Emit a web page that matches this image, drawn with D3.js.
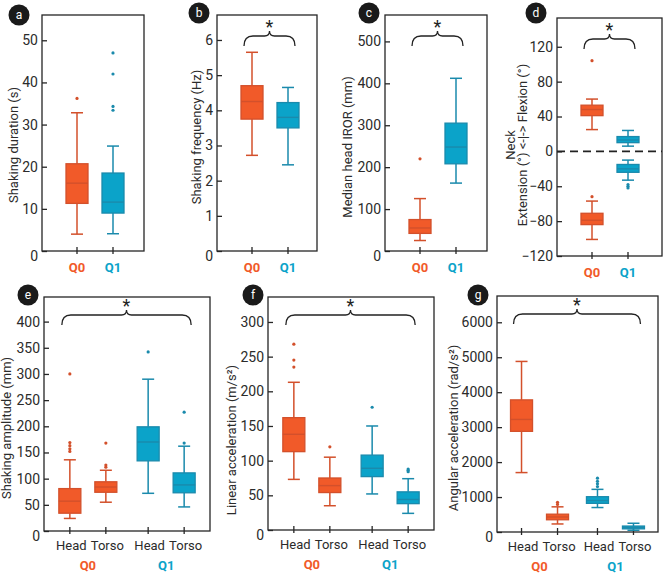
<!DOCTYPE html>
<html><head><meta charset="utf-8">
<script src="https://cdn.jsdelivr.net/npm/d3@7"></script>
<style>body{margin:0;background:#fff;} text{font-family:Roboto,"Noto Sans",sans-serif;}</style>
</head><body>
<script>
// ---------- DATA ----------
const groups = ["Q0", "Q1"];
const parts = ["Head", "Torso"];

const durationBoxes = [
  {group:"Q0", lo:4, q1:11.3, med:16.1, q3:20.7, hi:32.8, out:[36.2]},
  {group:"Q1", lo:4.1, q1:9, med:11.6, q3:18.5, hi:24.9, out:[33.4, 34.3, 42, 47]}
];
const frequencyBoxes = [
  {group:"Q0", lo:2.72, q1:3.75, med:4.25, q3:4.7, hi:5.65, out:[]},
  {group:"Q1", lo:2.45, q1:3.5, med:3.8, q3:4.22, hi:4.65, out:[]}
];
const irorBoxes = [
  {group:"Q0", lo:25, q1:42, med:55, q3:75, hi:125, out:[220]},
  {group:"Q1", lo:162, q1:208, med:248, q3:305, hi:412, out:[]}
];
const neckBoxes = [
  {group:"Q0", lo:25, q1:41, med:48, q3:53, hi:60, out:[104]},
  {group:"Q0", lo:-101, q1:-84, med:-79, q3:-71, hi:-57, out:[-52]},
  {group:"Q1", lo:6, q1:10, med:13, q3:17, hi:24, out:[]},
  {group:"Q1", lo:-33, q1:-24, med:-20, q3:-15, hi:-10, out:[-38, -40, -42]}
];
const amplitudeBoxes = [
  {group:"Q0", part:"Head", lo:24, q1:34, med:57, q3:81, hi:136, out:[152, 157, 163, 169, 300]},
  {group:"Q0", part:"Torso", lo:55, q1:74, med:84, q3:94, hi:116, out:[122, 126, 168]},
  {group:"Q1", part:"Head", lo:72, q1:134, med:170, q3:199, hi:290, out:[342]},
  {group:"Q1", part:"Torso", lo:46, q1:73, med:88, q3:111, hi:162, out:[168, 227]}
];
const linearBoxes = [
  {group:"Q0", part:"Head", lo:73, q1:113, med:138, q3:162, hi:213, out:[235, 245, 268]},
  {group:"Q0", part:"Torso", lo:35, q1:54, med:64, q3:75, hi:105, out:[120]},
  {group:"Q1", part:"Head", lo:52, q1:77, med:89, q3:108, hi:150, out:[177]},
  {group:"Q1", part:"Torso", lo:24, q1:38, med:44, q3:55, hi:74, out:[84, 86, 88]}
];
const angularBoxes = [
  {group:"Q0", part:"Head", lo:1700, q1:2880, med:3220, q3:3780, hi:4880, out:[]},
  {group:"Q0", part:"Torso", lo:230, q1:350, med:430, q3:510, hi:720, out:[790, 850]},
  {group:"Q1", part:"Head", lo:700, q1:820, med:900, q3:1010, hi:1220, out:[1300, 1380, 1450, 1540]},
  {group:"Q1", part:"Torso", lo:50, q1:90, med:130, q3:170, hi:250, out:[]}
];

const durationTicks = [0, 10, 20, 30, 40, 50];
const frequencyTicks = [0, 1, 2, 3, 4, 5, 6];
const irorTicks = [0, 100, 200, 300, 400, 500];
const neckTicks = [-120, -80, -40, 0, 40, 80, 120];
const amplitudeTicks = [0, 50, 100, 150, 200, 250, 300, 350, 400];
const linearTicks = [0, 50, 100, 150, 200, 250, 300];
const angularTicks = [0, 1000, 2000, 3000, 4000, 5000, 6000];

// ---------- STYLE / LAYOUT ----------
const fillC = {Q0:"#f15a29", Q1:"#0ba3c9"};
const strokeC = {Q0:"#d3502b", Q1:"#1a8aac"};
const axisC = "#262626";

const svg = d3.select("body").append("svg").attr("width", 663).attr("height", 575);

const panels = [
  {letter:"a", fx:[42,144], fy:[15,251], domain:[0,56], ticks:durationTicks, boxes:durationBoxes,
   label:["Shaking duration (s)"], lx:[13], ly:145, circ:[19,15], brace:false},
  {letter:"b", fx:[217,317], fy:[15,251], domain:[0,6.71], ticks:frequencyTicks, boxes:frequencyBoxes,
   label:["Shaking frequency (Hz)"], lx:[196], ly:137, circ:[199,13], brace:true},
  {letter:"c", fx:[385,487], fy:[15,251], domain:[0,563], ticks:irorTicks, boxes:irorBoxes,
   label:["Median head IROR (mm)"], lx:[347], ly:147, circ:[369,13], brace:true},
  {letter:"d", fx:[557,662], fy:[18,256], domain:[-120,153], ticks:neckTicks, boxes:neckBoxes,
   label:["Neck","Extension (°) <-|-> Flexion (°)"], lx:[510,522], ly:145, circ:[536,13], brace:true, zero:true},
  {letter:"e", fx:[44,210], fy:[297,531], domain:[0,447], ticks:amplitudeTicks, boxes:amplitudeBoxes,
   label:["Shaking amplitude (mm)"], lx:[6], ly:428, circ:[28,295], brace:true, parts:true},
  {letter:"f", fx:[268,434], fy:[297,530], domain:[0,336], ticks:linearTicks, boxes:linearBoxes,
   label:["Linear acceleration (m/s²)"], lx:[231], ly:440, circ:[253,295], brace:true, parts:true},
  {letter:"g", fx:[497,658], fy:[296,532], domain:[0,6752], ticks:angularTicks, boxes:angularBoxes,
   label:["Angular acceleration (rad/s²)"], lx:[453], ly:428, circ:[478,295], brace:true, parts:true}
];

function bracePath(x0, x1, y, h) {
  const xm = (x0 + x1) / 2, r = 9;
  return `M${x0},${y+h} Q${x0},${y} ${x0+r},${y} L${xm-5},${y} Q${xm},${y} ${xm},${y-5} Q${xm},${y} ${xm+5},${y} L${x1-r},${y} Q${x1},${y} ${x1},${y+h}`;
}

panels.forEach(p => {
  const g = svg.append("g");
  const y = d3.scaleLinear().domain(p.domain).range([p.fy[1], p.fy[0]]);
  let xpos, xg;
  if (p.parts) {
    xg = d3.scalePoint().domain(groups).range(p.fx).padding(0.56);
    const xp = d3.scalePoint().domain(parts).range([-18, 18]);
    xpos = b => xg(b.group) + xp(b.part);
  } else {
    xg = d3.scalePoint().domain(groups).range([p.fx[0] + 35, p.fx[0] + 71]);
    xpos = b => xg(b.group);
  }

  // y axis
  const ax = g.append("g").attr("transform", `translate(${p.fx[0]},0)`)
    .call(d3.axisLeft(y).tickValues(p.ticks).tickSize(-5).tickPadding(4).tickFormat(d3.format("d")));
  ax.select(".domain").remove();
  ax.selectAll(".tick line").attr("stroke", axisC).attr("stroke-width", 1.3);
  ax.selectAll(".tick text").attr("fill", "#2b2b2b").style("font-size", "14px")
    .attr("dy", d => (d === 0 && !p.zero) ? "0.65em" : "0.32em");

  // zero dashed line
  if (p.zero) {
    g.append("line").attr("x1", p.fx[0]).attr("x2", p.fx[1]).attr("y1", y(0)).attr("y2", y(0))
      .attr("stroke", "#222").attr("stroke-width", 1.6).attr("stroke-dasharray", "8,5");
  }

  // frame
  g.append("rect").attr("x", p.fx[0]).attr("y", p.fy[0]).attr("width", p.fx[1]-p.fx[0]).attr("height", p.fy[1]-p.fy[0])
    .attr("fill", "none").attr("stroke", axisC).attr("stroke-width", 1.3);

  // x ticks
  const xs = Array.from(new Set(p.boxes.map(xpos)));
  g.selectAll(".xt").data(xs).enter().append("line")
    .attr("x1", d => d).attr("x2", d => d).attr("y1", p.fy[1]-4).attr("y2", p.fy[1]+3)
    .attr("stroke", axisC).attr("stroke-width", 1.3);

  // boxes
  const bw = 22, cw = 12;
  p.boxes.forEach(b => {
    const cx = xpos(b), sc = strokeC[b.group];
    const bg = g.append("g");
    bg.append("line").attr("x1", cx).attr("x2", cx).attr("y1", y(b.lo)).attr("y2", y(b.q1)).attr("stroke", sc).attr("stroke-width", 1.5);
    bg.append("line").attr("x1", cx).attr("x2", cx).attr("y1", y(b.q3)).attr("y2", y(b.hi)).attr("stroke", sc).attr("stroke-width", 1.5);
    [b.lo, b.hi].forEach(v => bg.append("line").attr("x1", cx-cw/2).attr("x2", cx+cw/2).attr("y1", y(v)).attr("y2", y(v)).attr("stroke", sc).attr("stroke-width", 1.5));
    bg.append("rect").attr("x", cx-bw/2).attr("width", bw).attr("y", y(b.q3)).attr("height", y(b.q1)-y(b.q3))
      .attr("fill", fillC[b.group]).attr("stroke", sc).attr("stroke-width", 1.3);
    bg.append("line").attr("x1", cx-bw/2).attr("x2", cx+bw/2).attr("y1", y(b.med)).attr("y2", y(b.med)).attr("stroke", sc).attr("stroke-width", 1.4);
    bg.selectAll("circle").data(b.out).enter().append("circle")
      .attr("cx", cx).attr("cy", v => y(v)).attr("r", 1.6).attr("fill", sc);
  });

  // x labels
  if (p.parts) {
    p.boxes.forEach(b => {
      g.append("text").attr("x", xpos(b) + 1.5).attr("y", p.fy[1]+19).attr("text-anchor", "middle")
        .attr("fill", "#2b2b2b").style("font-size", "13px").text(b.part);
    });
    groups.forEach(gr => {
      g.append("text").attr("x", xg(gr)).attr("y", p.fy[1]+39).attr("text-anchor", "middle")
        .attr("fill", fillC[gr]).style("font-size", "13px").style("font-weight", "bold").text(gr);
    });
  } else {
    groups.forEach(gr => {
      g.append("text").attr("x", xg(gr)).attr("y", p.fy[1]+21).attr("text-anchor", "middle")
        .attr("fill", fillC[gr]).style("font-size", "13px").style("font-weight", "bold").text(gr);
    });
  }

  // y title
  p.label.forEach((t, i) => {
    g.append("text").attr("transform", `translate(${p.lx[i]},${p.ly}) rotate(-90)`)
      .attr("text-anchor", "middle").attr("dy", "0.35em").attr("fill", "#2b2b2b").style("font-size", "13px").text(t);
  });

  // brace
  if (p.brace) {
    const x0 = d3.min(xs) - 8, x1 = d3.max(xs) + 7;
    const by = p.fy[0] + (p.parts ? 18 : 21);
    g.append("path").attr("d", bracePath(x0, x1, by, 10)).attr("fill", "none").attr("stroke", "#222").attr("stroke-width", 1.3);
    g.append("text").attr("x", (x0+x1)/2).attr("y", by - 3).attr("text-anchor", "middle")
      .attr("fill", "#222").style("font-size", "18px").text("*");
  }

  // letter circle
  g.append("circle").attr("cx", p.circ[0]).attr("cy", p.circ[1]).attr("r", 10.5).attr("fill", "#1a1a1a");
  g.append("text").attr("x", p.circ[0]).attr("y", p.circ[1]).attr("dy", "0.35em").attr("text-anchor", "middle")
    .attr("fill", "#fff").style("font-size", "12px").text(p.letter);
});
</script>
</body></html>
